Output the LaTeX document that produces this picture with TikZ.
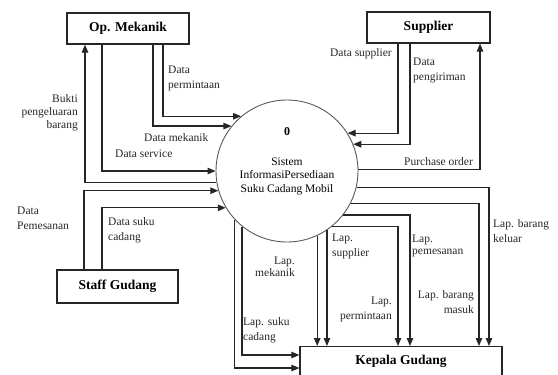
\documentclass[tikz,border=0pt]{standalone}
\usepackage{fontspec}
\setmainfont{Liberation Serif}
\usetikzlibrary{arrows.meta}
\begin{document}
\begin{tikzpicture}[x=1bp,y=-1bp,
  flow/.style={line width=1.1bp, draw=black!85, -{Triangle[length=8bp,width=6.5bp]}},
  entity/.style={draw=black!85, line width=1.2bp, inner sep=0, fill=white,
    font=\fontsize{13.5bp}{16bp}\selectfont\bfseries},
  lbl/.style={inner sep=0, font=\fontsize{11.5bp}{15bp}\selectfont, text=black!85},
  proc/.style={circle, draw=black!65, line width=0.9bp, minimum size=142bp, inner sep=0},
]
\useasboundingbox (0,0) rectangle (558,374);
\clip (0,0) rectangle (558,374);
\fill[white] (0,0) rectangle (558,374);

% process and external entities
\node[proc] (c) at (287,171) {};
\node[inner sep=0, font=\fontsize{12bp}{14bp}\selectfont\bfseries] (zero) at (287,132) {0};
\node[inner sep=0, align=center, font=\fontsize{11.5bp}{13.5bp}\selectfont] (ctitle) at (287,176)
  {Sistem\\InformasiPersediaan\\Suku Cadang Mobil};

\node[entity, minimum width=122bp, minimum height=31bp] (om) at (128,28.5) {Op. Mekanik};
\node[entity, minimum width=123bp, minimum height=31bp] (sup) at (428.5,27.5) {Supplier};
\node[entity, minimum width=121bp, minimum height=33bp] (sg) at (117.5,286.5) {Staff Gudang};
\node[entity, anchor=north, minimum width=202bp, minimum height=40bp,
  text height=10bp, text depth=14bp] (kg) at (401,346) {Kepala Gudang};

% Op. Mekanik
\draw[flow] ([xshift=35bp]om.south) |- (c.130);
\draw[flow] ([xshift=25bp]om.south) |- (c.141);
\draw[flow] ([xshift=-26bp]om.south) |- (c.180);
\draw[flow] (c.189) -| ([xshift=-43bp]om.south);

% Supplier
\draw[flow] ([xshift=-30.5bp]sup.south) |- (c.32);
\draw[flow] ([xshift=-18.5bp]sup.south) |- (c.22);
\draw[flow] (c.1) -| ([xshift=51.5bp]sup.south);

% Staff Gudang
\draw[flow] ([xshift=-33.5bp]sg.north) |- (c.196);
\draw[flow] ([xshift=-15.5bp]sg.north) |- (c.211);

% Kepala Gudang
\draw[flow] (c.347) -| ([xshift=88bp]kg.north);
\draw[flow] (c.333) -| ([xshift=78bp]kg.north);
\draw[flow] (c.322) -| ([xshift=9bp]kg.north);
\draw[flow] (c.309) -| ([xshift=-3bp]kg.north);
\draw[flow] (c.304) -- (c.304 |- kg.north);
\draw[flow] (c.295) -- (c.295 |- kg.north);
\draw[flow] (c.231) |- ([yshift=-9bp]kg.north west);
\draw[flow] (c.223) |- ([yshift=-22bp]kg.north west);

% flow labels
\node[lbl, anchor=west, align=left] (l1) at (168,78.5) {Data\\permintaan};
\node[lbl, anchor=east, align=right, font=\fontsize{11.5bp}{13bp}\selectfont] (l2) at (78,113) {Bukti\\pengeluaran\\barang};
\node[lbl, anchor=west] (l3) at (144,138) {Data mekanik};
\node[lbl, anchor=west] (l4) at (115,154) {Data service};
\node[lbl, anchor=east] (l5) at (392,54) {Data supplier};
\node[lbl, anchor=west, align=left] (l6) at (413,70.5) {Data\\pengiriman};
\node[lbl, anchor=west] (l7) at (404,162) {Purchase order};
\node[lbl, anchor=west, align=left] (l8) at (493,231) {Lap. barang\\keluar};
\node[lbl, anchor=east, align=right] (l9) at (474,302.5) {Lap. barang\\masuk};
\node[lbl, anchor=west, align=left, font=\fontsize{11.5bp}{12.5bp}\selectfont] (l10) at (412,246) {Lap.\\pemesanan};
\node[lbl, anchor=east, align=right] (l11) at (392,309) {Lap.\\permintaan};
\node[lbl, anchor=west, align=left] (l12) at (332,246.5) {Lap.\\supplier};
\node[lbl, anchor=east, align=right, font=\fontsize{11.5bp}{12.5bp}\selectfont] (l13) at (295,267) {Lap.\\mekanik};
\node[lbl, anchor=west, align=left] (l14) at (243,330) {Lap. suku\\cadang};
\node[lbl, anchor=west, align=left] (l15) at (17,218.5) {Data\\Pemesanan};
\node[lbl, anchor=west, align=left] (l16) at (108,230.5) {Data suku\\cadang};
\end{tikzpicture}
\end{document}
